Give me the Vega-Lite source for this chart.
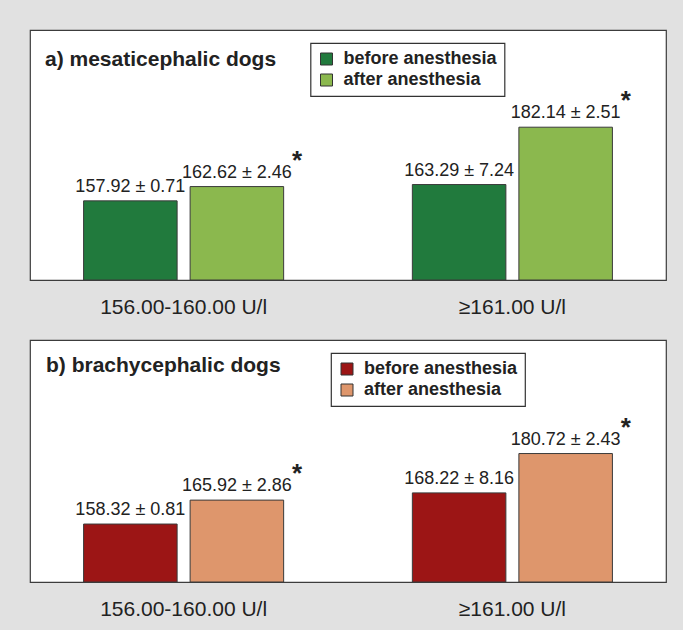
{
  "$schema": "https://vega.github.io/schema/vega-lite/v6.json",
  "background": "#e1e1e1",
  "padding": {"left": 29, "top": 29, "right": 18, "bottom": 10},
  "datasets": {
    "mesa": [
      {"range": "156.00-160.00 U/l", "time": "before anesthesia", "value": 157.92, "sd": 0.71, "label": "157.92 ± 0.71", "sig": ""},
      {"range": "156.00-160.00 U/l", "time": "after anesthesia", "value": 162.62, "sd": 2.46, "label": "162.62 ± 2.46", "sig": "*"},
      {"range": "≥161.00 U/l", "time": "before anesthesia", "value": 163.29, "sd": 7.24, "label": "163.29 ± 7.24", "sig": ""},
      {"range": "≥161.00 U/l", "time": "after anesthesia", "value": 182.14, "sd": 2.51, "label": "182.14 ± 2.51", "sig": "*"}
    ],
    "brachy": [
      {"range": "156.00-160.00 U/l", "time": "before anesthesia", "value": 158.32, "sd": 0.81, "label": "158.32 ± 0.81", "sig": ""},
      {"range": "156.00-160.00 U/l", "time": "after anesthesia", "value": 165.92, "sd": 2.86, "label": "165.92 ± 2.86", "sig": "*"},
      {"range": "≥161.00 U/l", "time": "before anesthesia", "value": 168.22, "sd": 8.16, "label": "168.22 ± 8.16", "sig": ""},
      {"range": "≥161.00 U/l", "time": "after anesthesia", "value": 180.72, "sd": 2.43, "label": "180.72 ± 2.43", "sig": "*"}
    ]
  },
  "spacing": 21,
  "resolve": {"scale": {"color": "independent", "x": "independent", "y": "independent"}, "legend": {"color": "independent"}},
  "vconcat": [
    {
      "width": 636,
      "height": 250,
      "data": {"name": "mesa"},
      "title": {"text": "a) mesaticephalic dogs", "anchor": "start", "dx": 15, "dy": 57, "offset": 0, "baseline": "alphabetic"},
      "encoding": {
        "x": {"field": "range", "type": "nominal", "sort": ["156.00-160.00 U/l", "≥161.00 U/l"], "scale": {"paddingInner": 0.3915, "paddingOuter": 0.163}, "axis": {"title": null, "domain": false, "ticks": false, "labelAngle": 0, "labelFontSize": 21, "labelPadding": 16, "labelColor": "#222222", "labelFont": "Liberation Sans"}},
        "xOffset": {"field": "time", "type": "nominal", "sort": ["before anesthesia", "after anesthesia"], "scale": {"paddingInner": 0.122, "paddingOuter": 0}},
        "y": {"field": "value", "type": "quantitative", "scale": {"domain": [131.9, 214.1], "zero": false, "nice": false}, "axis": null}
      },
      "layer": [
        {
          "mark": {"type": "bar", "stroke": "#3a3a3a", "strokeWidth": 1},
          "encoding": {
            "y2": {"datum": 131.9},
            "color": {"field": "time", "type": "nominal", "sort": ["before anesthesia", "after anesthesia"], "scale": {"domain": ["before anesthesia", "after anesthesia"], "range": ["#217a3d", "#8bb84e"]},
              "legend": {"title": null, "orient": "none", "legendX": 280.5, "legendY": 13}}
          }
        },
        {
          "mark": {"type": "text", "baseline": "alphabetic", "dy": -9, "fontSize": 18, "font": "Liberation Sans", "color": "#222222"},
          "encoding": {"text": {"field": "label"}}
        },
        {
          "mark": {"type": "text", "align": "left", "baseline": "alphabetic", "dx": 55, "dy": -18, "fontSize": 26, "fontWeight": "bold", "font": "Liberation Sans", "color": "#222222"},
          "encoding": {"text": {"field": "sig"}}
        }
      ]
    },
    {
      "width": 636,
      "height": 242,
      "data": {"name": "brachy"},
      "title": {"text": "b) brachycephalic dogs", "anchor": "start", "dx": 16, "dy": 52.5, "offset": 0, "baseline": "alphabetic"},
      "encoding": {
        "x": {"field": "range", "type": "nominal", "sort": ["156.00-160.00 U/l", "≥161.00 U/l"], "scale": {"paddingInner": 0.3915, "paddingOuter": 0.163}, "axis": {"title": null, "domain": false, "ticks": false, "labelAngle": 0, "labelFontSize": 21, "labelPadding": 16, "labelColor": "#222222", "labelFont": "Liberation Sans"}},
        "xOffset": {"field": "time", "type": "nominal", "sort": ["before anesthesia", "after anesthesia"], "scale": {"paddingInner": 0.122, "paddingOuter": 0}},
        "y": {"field": "value", "type": "quantitative", "scale": {"domain": [139.9, 216.8], "zero": false, "nice": false}, "axis": null}
      },
      "layer": [
        {
          "mark": {"type": "bar", "stroke": "#3a3a3a", "strokeWidth": 1},
          "encoding": {
            "y2": {"datum": 139.9},
            "color": {"field": "time", "type": "nominal", "sort": ["before anesthesia", "after anesthesia"], "scale": {"domain": ["before anesthesia", "after anesthesia"], "range": ["#9c1515", "#de966c"]},
              "legend": {"title": null, "orient": "none", "legendX": 301, "legendY": 13}}
          }
        },
        {
          "mark": {"type": "text", "baseline": "alphabetic", "dy": -9, "fontSize": 18, "font": "Liberation Sans", "color": "#222222"},
          "encoding": {"text": {"field": "label"}}
        },
        {
          "mark": {"type": "text", "align": "left", "baseline": "alphabetic", "dx": 55, "dy": -18, "fontSize": 26, "fontWeight": "bold", "font": "Liberation Sans", "color": "#222222"},
          "encoding": {"text": {"field": "sig"}}
        }
      ]
    }
  ],
  "config": {
    "view": {"fill": "white", "stroke": "#3c3c3c", "strokeWidth": 1.2},
    "title": {"font": "Liberation Sans", "fontSize": 21, "fontWeight": "bold", "color": "#222222"},
    "legend": {
      "fillColor": "white", "strokeColor": "#333333", "strokeWidth": 1.2, "padding": 7,
      "symbolType": "square", "symbolSize": 144, "symbolStrokeColor": "#333333", "symbolStrokeWidth": 1, "symbolOpacity": 1,
      "labelFont": "Liberation Sans", "labelFontSize": 18, "labelFontWeight": "bold", "labelColor": "#222222",
      "labelOffset": 8, "rowPadding": 3, "labelLimit": 300
    }
  }
}
